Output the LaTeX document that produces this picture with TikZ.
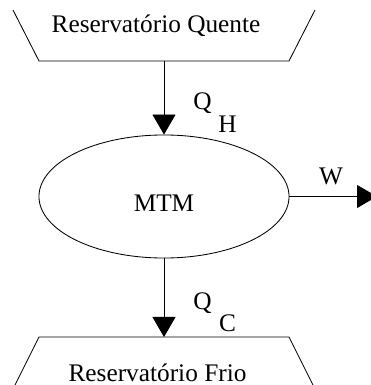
\documentclass[tikz,border=0pt]{standalone}
\usepackage{fontspec}
\setmainfont{Liberation Serif}
\usetikzlibrary{shapes.geometric,arrows.meta}
\begin{document}
\begin{tikzpicture}[x=0.025cm, y=-0.025cm, line width=0.6pt, font=\fontsize{18}{20}\selectfont]
\useasboundingbox (0,0) rectangle (370,385);
% reservatorios
\draw (13,10) -- (39,61) -- (289,61) -- (315,10);
\draw (15,385) -- (39,337) -- (289,337) -- (313,385);
\draw 	(156,33) node[anchor=base](q1){Reservatório Quente}
		(157.5,381) node[anchor=base](f1){Reservatório Frio};
\draw 	(164,196.5) node[ellipse,draw,inner sep=0pt,minimum width=6.25cm,minimum height=3.075cm,text height=0.725cm,text depth=0pt](m1){MTM};
\path 	(164,61) coordinate(a1)  (164,337) coordinate(b1)  (377,196.5) coordinate(w1);
\path[-{Triangle[length=0.5cm,width=0.575cm]}]
    (a1) edge node {} (m1.north)
    (m1.south) edge node {} (b1)
    (m1.east) edge node {} (w1);
\draw 	(202.5,110) node[anchor=base](q2){Q}  (227.5,133) node[anchor=base](h2){H}
		(202.5,309) node[anchor=base](q3){Q}  (227.5,331) node[anchor=base](c3){C}
		(331,185) node[anchor=base](w2){W};
\end{tikzpicture}
\end{document}
